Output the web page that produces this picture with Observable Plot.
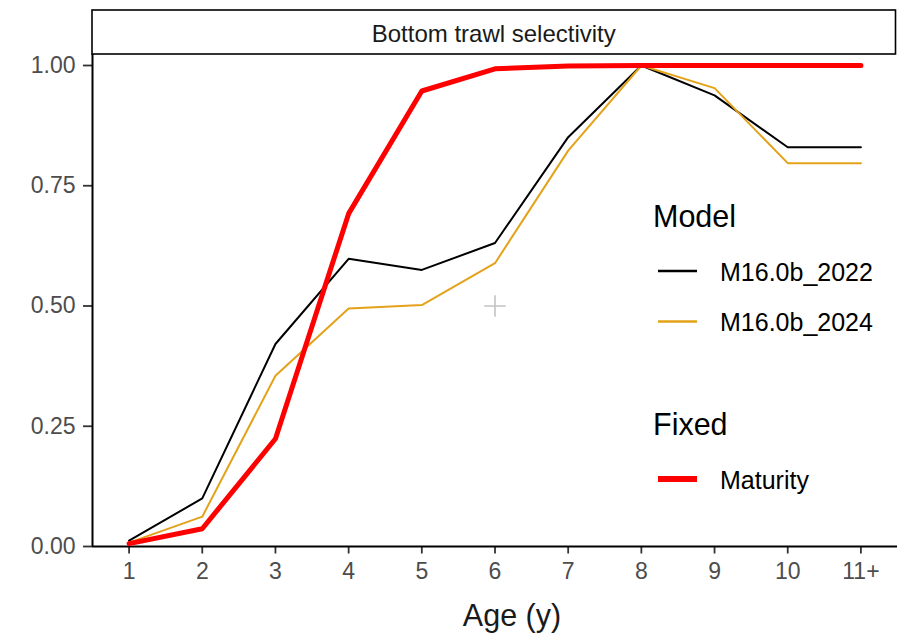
<!DOCTYPE html>
<html>
<head>
<meta charset="utf-8">
<script src="https://cdn.jsdelivr.net/npm/d3@7"></script>
<script src="https://cdn.jsdelivr.net/npm/@observablehq/plot@0.6"></script>
<style>
  html, body { margin: 0; padding: 0; background: #fff; }
  #chart { width: 897px; height: 636px; }
</style>
</head>
<body>
<div id="chart"></div>
<script>
// Age classes (the last one is a plus group)
const ages = [1, 2, 3, 4, 5, 6, 7, 8, 9, 10, 11];
const ageLabels = ["1", "2", "3", "4", "5", "6", "7", "8", "9", "10", "11+"];

// Bottom trawl selectivity at age, by model run
const selM2022 = [0.012, 0.100, 0.421, 0.598, 0.575, 0.631, 0.851, 1.000, 0.938, 0.830, 0.830];
const selM2024 = [0.008, 0.062, 0.355, 0.495, 0.502, 0.589, 0.823, 1.000, 0.953, 0.797, 0.797];

// Fixed maturity ogive
const maturity = [0.006, 0.037, 0.224, 0.692, 0.947, 0.993, 0.999, 1.000, 1.000, 1.000, 1.000];

const yTicks = [0, 0.25, 0.5, 0.75, 1];
const stripTitle = "Bottom trawl selectivity";
const xTitle = "Age (y)";

// Legend groups
const modelNames = ["M16.0b_2022", "M16.0b_2024"];
const modelColors = ["#000000", "#E3A21A"];
const fixedNames = ["Maturity"];
const fixedColors = ["#FF0000"];

// Marker at the panel centre
const centreMark = [{age: 6, value: 0.5}];

const rows = (name, values) => ages.map((a, i) => ({age: a, value: values[i], series: name}));
const data2022 = rows(modelNames[0], selM2022);
const data2024 = rows(modelNames[1], selM2024);
const dataMat = rows(fixedNames[0], maturity);

const font = "'Liberation Sans', Arial, Helvetica, sans-serif";

// Facet strip drawn across the top margin
function strip(index, scales, values, dims) {
  const g = d3.create("svg:g");
  const x0 = dims.marginLeft, x1 = dims.width - 1.5;
  const y0 = 10, y1 = dims.marginTop;
  g.append("rect")
    .attr("x", x0).attr("y", y0)
    .attr("width", x1 - x0).attr("height", y1 - y0)
    .attr("fill", "#fff").attr("stroke", "#000").attr("stroke-width", 1.6);
  g.append("text")
    .attr("x", (x0 + x1) / 2).attr("y", y0 + 31.5)
    .attr("text-anchor", "middle")
    .attr("font-size", 24).attr("fill", "#1a1a1a")
    .text(stripTitle);
  return g.node();
}

// Two-group legend placed inside the panel
function legend() {
  const g = d3.create("svg:g").attr("font-family", font).attr("text-anchor", "start");
  const groups = [
    {title: "Model", names: modelNames, colors: modelColors, widths: [2.6, 2.6], top: 227},
    {title: "Fixed", names: fixedNames, colors: fixedColors, widths: [6, 6], top: 435}
  ];
  for (const grp of groups) {
    g.append("text").attr("x", 653).attr("y", grp.top)
      .attr("font-size", 30.5).attr("fill", "#000").text(grp.title);
    grp.names.forEach((n, i) => {
      const cy = grp.top + 44 + i * 50.5;
      g.append("line").attr("x1", 658).attr("x2", 697).attr("y1", cy).attr("y2", cy)
        .attr("stroke", grp.colors[i]).attr("stroke-width", grp.widths[i]);
      g.append("text").attr("x", 720).attr("y", cy + 9.5)
        .attr("font-size", 25).attr("fill", "#000").text(n);
    });
  }
  return g.node();
}

const chart = Plot.plot({
  width: 897,
  height: 636,
  marginLeft: 92,
  marginRight: 0,
  marginTop: 54,
  marginBottom: 90,
  style: {fontFamily: font, fontSize: "23px", background: "#fff", overflow: "visible"},
  x: {type: "linear", domain: [0.5, 11.5]},
  y: {type: "linear", domain: [0, 1 + 11 / 481]},
  marks: [
    Plot.axisX({
      ticks: ages, tickSize: 7.5, tickPadding: 8.5, strokeWidth: 1.8,
      stroke: "#333", fill: "#4d4d4d", fontSize: 23,
      tickFormat: (d) => ageLabels[ages.indexOf(d)], label: null
    }),
    Plot.axisY({
      ticks: yTicks, tickSize: 9, tickPadding: 8, strokeWidth: 1.8,
      stroke: "#333", fill: "#4d4d4d", fontSize: 23,
      tickFormat: d3.format(".2f"), label: null
    }),
    Plot.ruleY([0], {stroke: "#000", strokeWidth: 2}),
    Plot.ruleX([0.5], {stroke: "#000", strokeWidth: 2}),
    Plot.dot(centreMark, {x: "age", y: "value", symbol: "plus", r: 7, stroke: "#c4c4c4", strokeWidth: 1.6}),
    Plot.line(data2022, {x: "age", y: "value", stroke: modelColors[0], strokeWidth: 2}),
    Plot.line(data2024, {x: "age", y: "value", stroke: modelColors[1], strokeWidth: 2}),
    Plot.line(dataMat, {x: "age", y: "value", stroke: fixedColors[0], strokeWidth: 5}),
    Plot.text([xTitle], {
      frameAnchor: "bottom", lineAnchor: "top", dx: 17, dy: 58,
      fontSize: 30.5, fill: "#1a1a1a", text: (d) => d
    }),
    strip,
    legend
  ]
});

document.getElementById("chart").appendChild(chart);
</script>
</body>
</html>
